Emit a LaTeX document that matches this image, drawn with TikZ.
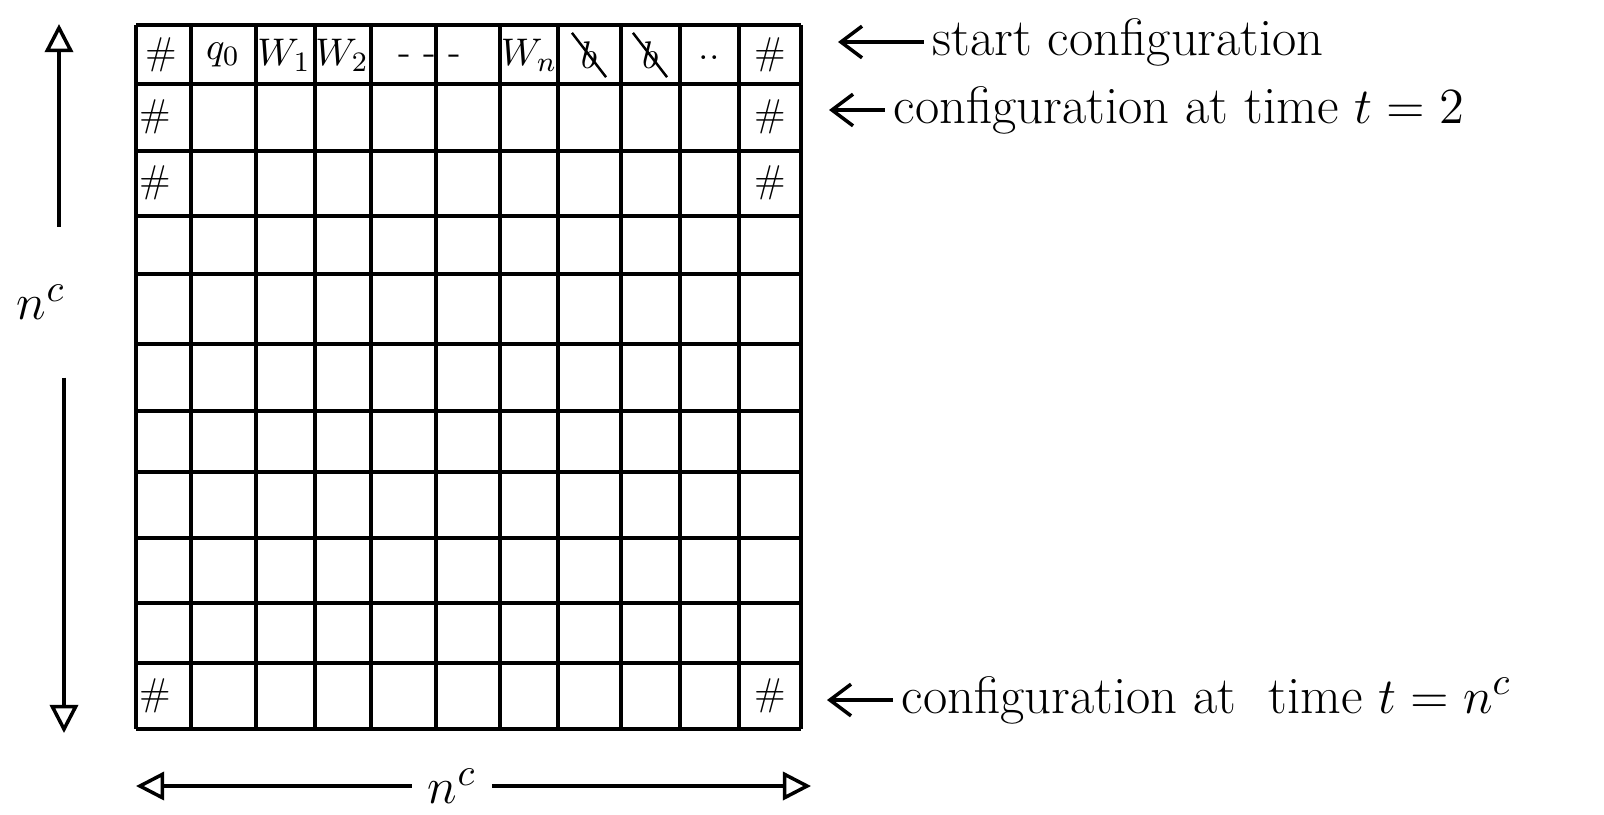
\documentclass[tikz,border=0pt]{standalone}
\usetikzlibrary{arrows.meta}
\begin{document}
\begin{tikzpicture}[x=0.01cm,y=-0.01cm,line width=1pt,
    every node/.style={font=\fontsize{15}{17}\selectfont,inner sep=2pt},
    cell/.style={font=\fontsize{11}{13}\selectfont,inner sep=1pt},
    side/.style={anchor=west},
    pointer/.style={{Straight Barb[length=6pt,width=9pt]}-}]
  \useasboundingbox (0,0) rectangle (1604,814);
  % the tableau
  \foreach \x in {136,191,256,315,371,436,500,558,621,680,739,801}
    \draw (\x,25) -- (\x,729);
  \foreach \y in {25,84,151,216,274,344,411,472,538,603,663,729}
    \draw (136,\y) -- (801,\y);
  % first row
  \node[cell] (h0l) at (161,55) {\#};
  \node[cell] (q0) at (223,55) {$q_0$};
  \node[cell] (w1) at (284,55) {$W_1$};
  \node[cell] (w2) at (342,55) {$W_2$};
  \node[cell] (dots) at (430,60) {-~-~-};
  \node[cell] (wn) at (529,55) {$W_n$};
  \node[cell,inner sep=2pt] (b1) at (589,55) {$b$};
  \node[cell,inner sep=2pt] (b2) at (650,55) {$b$};
  \draw[line width=0.7pt] (b1.north west) -- (b1.south east);
  \draw[line width=0.7pt] (b2.north west) -- (b2.south east);
  \node[cell] (dd) at (709,58) {..};
  \node[cell] (h0r) at (770,55) {\#};
  % border symbols
  \foreach \y/\r in {117/1,183/2,696/n} {
    \node[cell] (h\r l) at (155,\y) {\#};
    \node[cell] (h\r r) at (770,\y) {\#};
  }
  % height
  \node[inner ysep=16pt] (ncl) at (41,302) {$n^c$};
  \coordinate (vtop) at (59,24);
  \coordinate (vbot) at (64,733);
  \draw[{Triangle[open,length=8pt,width=8pt]}-] (vtop) -- (vtop |- ncl.north);
  \draw[-{Triangle[open,length=8pt,width=8pt]}] (vbot |- ncl.south) -- (vbot);
  % width
  \node[inner xsep=4pt] (ncb) at (452,786) {$n^c$};
  \coordinate (hl) at (136,786);
  \coordinate (hr) at (811,786);
  \draw[{Triangle[open,length=8pt,width=8pt]}-] (hl) -- (hl -| ncb.west);
  \draw[-{Triangle[open,length=8pt,width=8pt]}] (hr -| ncb.east) -- (hr);
  % row labels
  \node[side] (cfg0) at (924,42) {start configuration};
  \node[side] (cfg1) at (885,110) {configuration at time $t=2$};
  \node[side] (cfgn) at (893,700) {configuration at~~time $t=n^c$};
  \coordinate (a0) at (838,42);
  \coordinate (a1) at (829,110);
  \coordinate (an) at (827,700);
  \draw[pointer] (a0) -- (cfg0);
  \draw[pointer] (a1) -- (cfg1);
  \draw[pointer] (an) -- (cfgn);
\end{tikzpicture}
\end{document}
